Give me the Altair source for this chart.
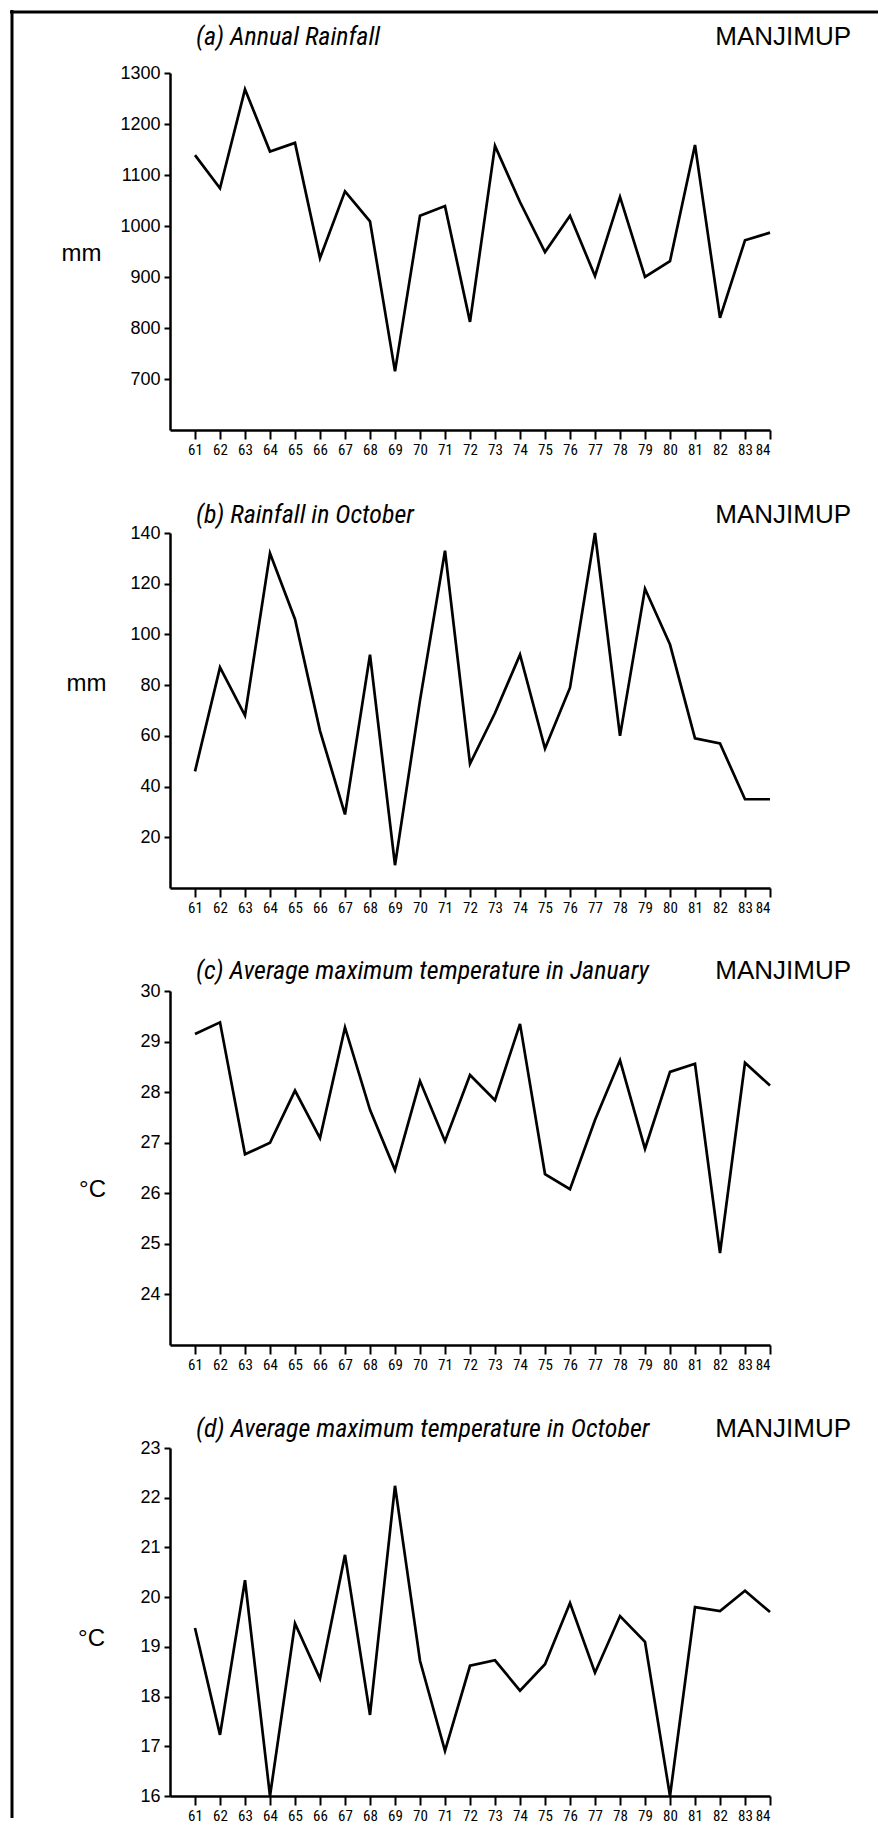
import altair as alt
import pandas as pd

years = list(range(61, 85))

annual_rainfall = [1139, 1074, 1268, 1146, 1163, 937, 1068, 1009, 715, 1020, 1039, 812,
                   1157, 1047, 949, 1020, 902, 1057, 900, 931, 1159, 820, 972, 987]
october_rainfall = [46, 87, 68, 132, 106, 62, 29, 92, 9, 74, 133, 49,
                    69, 92, 55, 79, 140, 60, 118, 96, 59, 57, 35, 35]
january_tmax = [29.15, 29.38, 26.77, 27.0, 28.03, 27.09, 29.28, 27.65, 26.46, 28.22, 27.03, 28.34,
                27.84, 29.35, 26.38, 26.08, 27.45, 28.63, 26.88, 28.4, 28.56, 24.82, 28.58, 28.13]
october_tmax = [19.38, 17.23, 20.34, 16.0, 19.47, 18.36, 20.85, 17.63, 22.24, 18.72, 16.91, 18.62,
                18.73, 18.12, 18.65, 19.88, 18.48, 19.62, 19.1, 16.0, 19.8, 19.72, 20.13, 19.7]

panel_titles = ["(a) Annual Rainfall", "(b) Rainfall in October",
                "(c) Average maximum temperature in January",
                "(d) Average maximum temperature in October"]
station = "MANJIMUP"
y_units = ["mm", "mm", "°C", "°C"]
y_domains = [[600, 1300], [0, 140], [23, 30], [16, 23]]
y_ticks = [[700, 800, 900, 1000, 1100, 1200, 1300],
           [20, 40, 60, 80, 100, 120, 140],
           [24, 25, 26, 27, 28, 29, 30],
           [16, 17, 18, 19, 20, 21, 22, 23]]

FONT = "Liberation Sans Narrow, Arial Narrow, Roboto Condensed, DejaVu Sans Condensed, Liberation Sans, sans-serif"
PLAIN = "Liberation Sans, Arial, sans-serif"

heights = [357, 355, 354, 348]
title_dy = [-28, -10, -12, -11]
unit_pos = [(-89, 180), (-84, 150), (-78, 198), (-79, 190)]


def panel(i, values):
    df = pd.DataFrame({"year": years, "value": values})
    line = alt.Chart(df).mark_line(color="black", strokeWidth=2.7, clip=False).encode(
        x=alt.X("year:Q",
                scale=alt.Scale(domain=[60, 84], nice=False, zero=False),
                axis=alt.Axis(values=years, format="d", title=None, grid=False,
                              labelFont=FONT, labelFontSize=15, labelColor="black",
                              labelPadding=3, tickSize=9, tickWidth=2, tickColor="black",
                              domainWidth=2.5, domainColor="black")),
        y=alt.Y("value:Q",
                scale=alt.Scale(domain=y_domains[i], nice=False, zero=False),
                axis=alt.Axis(values=y_ticks[i], format="d", title=y_units[i], grid=False,
                              labelFont=PLAIN, labelFontSize=18, labelColor="black",
                              labelPadding=4, tickSize=6, tickWidth=2, tickColor="black",
                              domainWidth=2.5, domainColor="black",
                              titleAngle=0, titleAlign="center", titleBaseline="middle",
                              titleX=unit_pos[i][0], titleY=unit_pos[i][1],
                              titleFont=PLAIN, titleFontSize=24, titleFontWeight="normal",
                              titleColor="black")),
    )
    ttl = alt.Chart(pd.DataFrame({"t": [panel_titles[i]]})).mark_text(
        align="left", baseline="alphabetic", fontStyle="italic", fontSize=26,
        font=FONT, color="black").encode(
        text="t:N", x=alt.value(26), y=alt.value(title_dy[i]))
    stn = alt.Chart(pd.DataFrame({"t": [station]})).mark_text(
        align="right", baseline="alphabetic", fontSize=26, font=PLAIN, color="black").encode(
        text="t:N", x=alt.value(681), y=alt.value(title_dy[i]))
    layers = [line, ttl, stn]
    if i == 0:
        frame = pd.DataFrame({"k": [0]})
        left = alt.Chart(frame).mark_rule(color="black", strokeWidth=3).encode(
            x=alt.value(-158), y=alt.value(-63), y2=alt.value(1745))
        top = alt.Chart(frame).mark_rule(color="black", strokeWidth=3).encode(
            x=alt.value(-160), x2=alt.value(708), y=alt.value(-61))
        layers += [left, top]
    return alt.layer(*layers).properties(width=600, height=heights[i])


chart = alt.vconcat(
    panel(0, annual_rainfall),
    panel(1, october_rainfall),
    panel(2, january_tmax),
    panel(3, october_tmax),
    spacing=103,
).properties(
    bounds="flush",
    background="white",
    padding={"left": 0, "top": 0, "right": 0, "bottom": 0},
).configure(
    view=alt.ViewConfig(stroke="white", strokeWidth=1),
).configure_axis(grid=False)

chart.save("out.html", embed_options={"renderer": "svg", "actions": False})
